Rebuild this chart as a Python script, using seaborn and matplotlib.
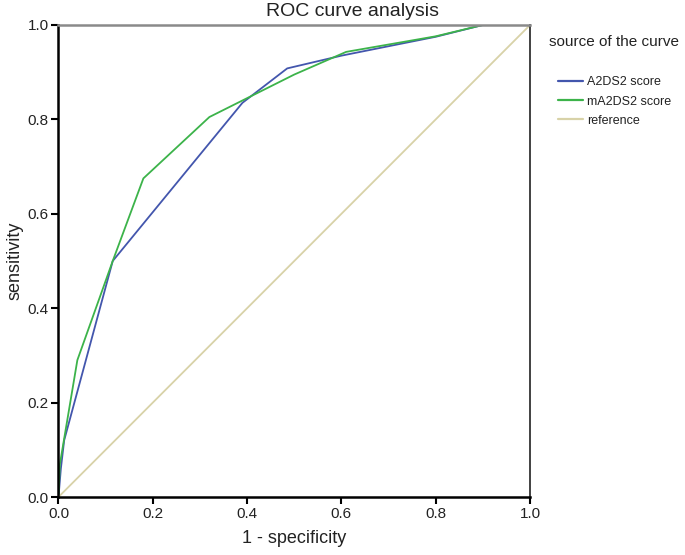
import matplotlib
matplotlib.use("Agg")
import matplotlib.pyplot as plt
import seaborn as sns
import pandas as pd

# ROC points
a2ds2_fpr = [0.0, 0.005, 0.012, 0.115, 0.39, 0.485, 0.6, 0.7, 0.8, 0.9, 1.0]
a2ds2_tpr = [0.0, 0.06, 0.12, 0.50, 0.835, 0.908, 0.935, 0.955, 0.975, 1.0, 1.0]

ma2ds2_fpr = [0.0, 0.003, 0.04, 0.115, 0.18, 0.32, 0.5, 0.61, 0.8, 0.9, 1.0]
ma2ds2_tpr = [0.0, 0.07, 0.29, 0.50, 0.675, 0.805, 0.895, 0.943, 0.976, 1.0, 1.0]

ref_x = [0.0, 1.0]
ref_y = [0.0, 1.0]

series_names = ["A2DS2 score", "mA2DS2 score", "reference"]
colors = ["#4356ad", "#3cb34a", "#d8d2a8"]

sns.set_style("white")
plt.rcParams['font.family'] = ['Liberation Sans', 'DejaVu Sans']

df = pd.concat([
    pd.DataFrame({"fpr": a2ds2_fpr, "tpr": a2ds2_tpr, "curve": series_names[0]}),
    pd.DataFrame({"fpr": ma2ds2_fpr, "tpr": ma2ds2_tpr, "curve": series_names[1]}),
    pd.DataFrame({"fpr": ref_x, "tpr": ref_y, "curve": series_names[2]}),
])

fig = plt.figure(figsize=(6.85, 5.55), dpi=100)
ax = fig.add_axes([0.0854, 0.1045, 0.6884, 0.8505])

sns.lineplot(data=df, x="fpr", y="tpr", hue="curve", palette=colors,
             sort=False, estimator=None, linewidth=1.3, ax=ax)

ax.set_xlim(0, 1)
ax.set_ylim(0, 1)
ax.set_xticks([0, 0.2, 0.4, 0.6, 0.8, 1.0])
ax.set_yticks([0, 0.2, 0.4, 0.6, 0.8, 1.0])
ax.set_xticklabels(["0.0", "0.2", "0.4", "0.6", "0.8", "1.0"])
ax.set_yticklabels(["0.0", "0.2", "0.4", "0.6", "0.8", "1.0"])
ax.tick_params(axis="both", direction="out", length=5, width=1.5, color="black",
               labelsize=11, labelcolor="#222222", bottom=True, left=True, pad=2)

for side in ["left", "bottom"]:
    ax.spines[side].set_color("black")
    ax.spines[side].set_linewidth(1.8)
ax.spines["right"].set_color("#333333")
ax.spines["right"].set_linewidth(1.3)
ax.spines["top"].set_color("#8a8a8a")
ax.spines["top"].set_linewidth(1.8)

ax.set_xlabel("1 - specificity", fontsize=13, color="#222222", labelpad=7)
ax.set_ylabel("sensitivity", fontsize=13, color="#222222", labelpad=3)

fig.text(353 / 685, 1 - 12 / 555, "ROC curve analysis", fontsize=14,
         color="#222222", ha="center", va="center")

# legend title as separate text, entries indented below it
fig.text(549 / 685, 1 - 42 / 555, "source of the curve", fontsize=11,
         color="#222222", ha="left", va="center")
leg = ax.legend(loc="upper left", bbox_to_anchor=(1.059, 0.891), frameon=False,
                fontsize=9, handlelength=2.0, handletextpad=0.33,
                labelspacing=0.57, borderaxespad=0, borderpad=0)
for line in leg.get_lines():
    line.set_linewidth(1.6)
for t in leg.get_texts():
    t.set_color("#222222")

fig.savefig("out.png", dpi=100)
